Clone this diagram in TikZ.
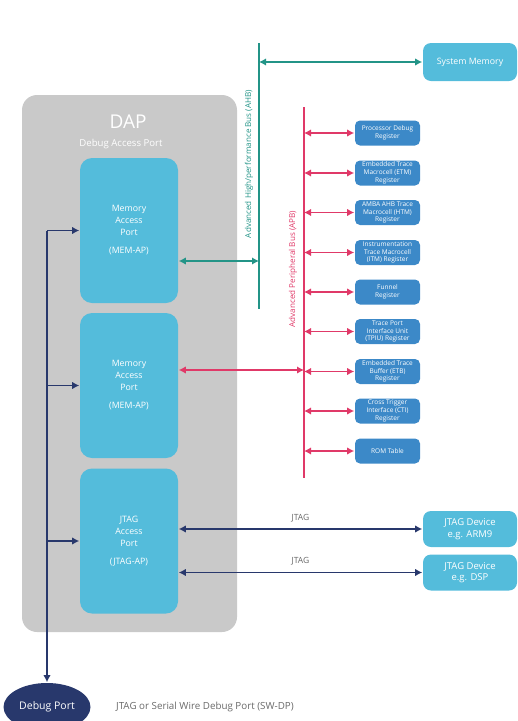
\documentclass[tikz,border=0pt]{standalone}
\usepackage{fontspec}
\setmainfont{Open Sans}
\usepackage{tikz}
\usetikzlibrary{arrows.meta,shapes.geometric}

\definecolor{dapgray}{RGB}{201,201,201}
\definecolor{apblue}{RGB}{84,188,219}
\definecolor{regblue}{RGB}{60,137,200}
\definecolor{ahbteal}{RGB}{35,148,135}
\definecolor{apbpink}{RGB}{224,57,104}
\definecolor{dpnavy}{RGB}{40,56,108}
\definecolor{labgray}{RGB}{105,105,105}

\begin{document}
\begin{tikzpicture}[x=1pt, y=-1pt, line width=1.6pt,
  >={Latex[length=7pt,width=7.5pt]},
  apbox/.style={fill=apblue, rounded corners=12pt, minimum width=98pt, minimum height=145pt, text=white, align=center, font=\fontsize{8.8}{12}\selectfont},
  regbox/.style={fill=regblue, rounded corners=5pt, minimum width=65pt, minimum height=25pt, inner sep=0.5pt, text=white, align=center, font=\fontsize{6.5}{7.8}\selectfont},
  devbox/.style={fill=apblue, rounded corners=8pt, minimum width=94pt, minimum height=36pt, text=white, align=center, font=\fontsize{9.5}{11.5}\selectfont},
  tealarr/.style={<->, draw=ahbteal},
  pinkarr/.style={<->, draw=apbpink},
  navyarr/.style={->, draw=dpnavy},
  buslabel/.style={rotate=90, font=\fontsize{8.1}{9}\selectfont},
  gray text/.style={text=labgray, font=\fontsize{8.5}{9}\selectfont}]
\useasboundingbox (0,0) rectangle (518,721);

% DAP container
\node[fill=dapgray, rounded corners=15pt, minimum width=215pt, minimum height=537pt] (dap) at (129.5,363.5) {};
\node[text=white, font=\fontsize{19}{22}\selectfont] (daptitle) at (128,122) {DAP};
\node[text=white, font=\fontsize{9.6}{11}\selectfont] (dapsub) at (121,144) {Debug Access Port};

\node[apbox] (mem1) at (129,230.5) {Memory\\Access\\Port\\[6pt](MEM-AP)};
\node[apbox] (mem2) at (129,385.5) {Memory\\Access\\Port\\[6pt](MEM-AP)};
\node[apbox] (jtagap) at (129,541) {JTAG\\Access\\Port\\[6pt](JTAG-AP)};

% buses
\coordinate (ahbtop) at (259,43);
\coordinate (ahbbot) at (259,309);
\draw[ahbteal] (ahbtop) -- (ahbbot);
\node[buslabel, text=ahbteal] (ahblabel) at (249,164) {Advanced High/performance Bus (AHB)};

\coordinate (apbtop) at (304,107);
\coordinate (apbbot) at (304,478);
\draw[apbpink] (apbtop) -- (apbbot);
\node[buslabel, text=apbpink] (apblabel) at (293,269) {Advanced Peripheral Bus (APB)};

% system memory
\node[fill=apblue, rounded corners=8pt, minimum width=94pt, minimum height=38pt, text=white, font=\fontsize{8.8}{10}\selectfont] (sysmem) at (470,62) {System Memory};
\draw[tealarr] (ahbtop |- sysmem) -- (sysmem.west);
\coordinate (ahbin) at (259,261);
\draw[tealarr] (mem1.east |- ahbin) -- (ahbin);

% registers on the APB
\node[regbox] (r1) at (387.5,133) {Processor Debug\\Register};
\draw[pinkarr] (apbtop |- r1) -- (r1.west);
\node[regbox] (r2) at (387.5,173) {Embedded Trace\\Macrocell (ETM)\\Register};
\draw[pinkarr] (apbtop |- r2) -- (r2.west);
\node[regbox] (r3) at (387.5,212.5) {AMBA AHB Trace\\Macrocell (HTM)\\Register};
\draw[pinkarr] (apbtop |- r3) -- (r3.west);
\node[regbox] (r4) at (387.5,252.5) {Instrumentation\\Trace Macrocell\\(ITM) Register};
\draw[pinkarr] (apbtop |- r4) -- (r4.west);
\node[regbox] (r5) at (387.5,292) {Funnel\\Register};
\draw[pinkarr] (apbtop |- r5) -- (r5.west);
\node[regbox] (r6) at (387.5,331.5) {Trace Port\\Interface Unit\\(TPIU) Register};
\draw[pinkarr] (apbtop |- r6) -- (r6.west);
\node[regbox] (r7) at (387.5,371.5) {Embedded Trace\\Buffer (ETB)\\Register};
\draw[pinkarr] (apbtop |- r7) -- (r7.west);
\node[regbox] (r8) at (387.5,411) {Cross Trigger\\Interface (CTI)\\Register};
\draw[pinkarr] (apbtop |- r8) -- (r8.west);
\node[regbox] (r9) at (387.5,451) {ROM Table};
\draw[pinkarr] (apbtop |- r9) -- (r9.west);

\coordinate (apbin) at (304,370);
\draw[pinkarr] (mem2.east |- apbin) -- (apbin);

% JTAG devices
\node[devbox] (dev1) at (470,529) {JTAG Device\\e.g. ARM9};
\node[devbox] (dev2) at (470,572.5) {JTAG Device\\e.g. DSP};
\draw[navyarr, <->] (jtagap.east |- dev1) -- node[gray text, above=3pt] (jlab1) {JTAG} (dev1.west);
\draw[navyarr, <->] (jtagap.east |- dev2) -- node[gray text, above=3pt] (jlab2) {JTAG} (dev2.west);

% debug port
\node[ellipse, fill=dpnavy, minimum width=87pt, minimum height=48pt, inner sep=1pt, text=white, font=\fontsize{10.5}{12}\selectfont] (dp) at (47,707) {Debug Port};
\node[anchor=west, text=labgray, font=\fontsize{9.8}{11}\selectfont] (dpnote) at (112,707) {JTAG or Serial Wire Debug Port (SW-DP)};
\draw[navyarr] (dp.north |- mem1) -- (dp.north);
\draw[navyarr] (dp.north |- mem1) -- (mem1.west);
\draw[navyarr] (dp.north |- mem2) -- (mem2.west);
\draw[navyarr] (dp.north |- jtagap) -- (jtagap.west);
\end{tikzpicture}
\end{document}
